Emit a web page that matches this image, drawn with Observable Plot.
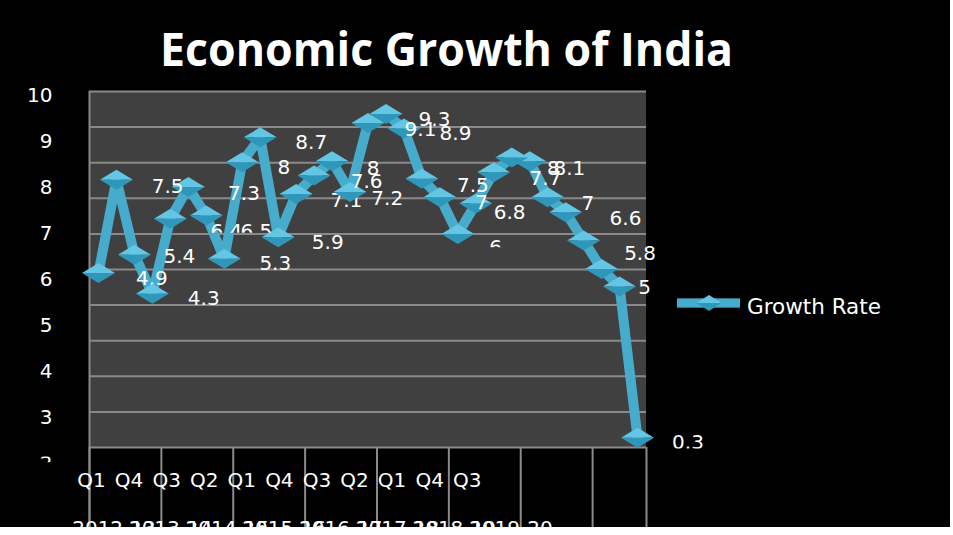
<!DOCTYPE html>
<html><head><meta charset="utf-8">
<script src="https://cdn.jsdelivr.net/npm/d3@7"></script>
<script src="https://cdn.jsdelivr.net/npm/@observablehq/plot@0.6"></script>
<style>
html,body{margin:0;padding:0;background:#fff;}
#chart{position:relative;width:950px;height:527px;background:#000;overflow:hidden;}
#title{position:absolute;left:0;top:25px;width:893px;text-align:center;font-family:"Open Sans";font-weight:700;font-size:47px;line-height:1;color:#fff;white-space:nowrap;}
#titleText{display:inline-block;transform-origin:center;}
#plot{position:absolute;left:0;top:80px;}
#legendSwatch{position:absolute;left:677px;top:292.7px;}
#legendText{position:absolute;left:747px;top:296px;font-family:"DejaVu Sans";font-size:21.5px;line-height:1;color:#fff;white-space:nowrap;}
</style></head><body>
<div id="chart">
  <div id="title"><span id="titleText">Economic Growth of India</span></div>
  <div id="plot"></div>
  <svg id="legendSwatch" width="64" height="20">
    <rect x="0" y="5.35" width="63" height="9.3" fill="#47abcb"></rect>
    <polygon points="19.5,10 32,2 44.5,10" fill="#63c6e4"></polygon>
    <polygon points="19.5,10 32,18 44.5,10" fill="#2f97ba"></polygon>
  </svg>
  <div id="legendText">Growth Rate</div>
</div>
<script>
// ---- data ----
const fiscalYears = ["2012-13","2013-14","2014-15","2015-16","2016-17","2017-18","2018-19","2019-20"];
const quarterNames = ["Q1","Q2","Q3","Q4"];
const seriesName = "Growth Rate";
const growthRate = [6.14, 8.17, 6.54, 5.69, 7.32, 8.01, 7.39, 6.45, 8.55, 9.09, 6.92, 7.86, 8.26, 8.57, 7.90, 9.40,
                    9.60, 9.28, 8.19, 7.79, 6.99, 7.65, 8.33, 8.65, 8.57, 7.79, 7.46, 6.85, 6.23, 5.85, 2.56];
const yTicks = [2, 3, 4, 5, 6, 7, 8, 9, 10];
// data labels as they appear (detached from the points in the original chart)
const labelText = ["4.9","7.5","5.4","4.3","7.3","5.3","8","5.9","8.7","7.1","7.6","8","7.2","9.1","9.3","8.9",
                   "7.5","7","6.8","7.7","8","8.1","7","6.6","5.8","5"];
const labelAtQuarter = [2.97,3.85,4.50,5.86,8.10,9.84,10.32,12.76,11.84,13.80,14.92,15.29,16.07,17.92,18.70,19.87,
                        20.84,21.32,22.88,24.88,25.32,26.21,27.24,29.33,30.14,30.39];
const labelAtValue = [6.02,8.02,6.49,5.58,7.86,6.34,8.43,6.80,8.97,7.72,8.12,8.41,7.75,9.26,9.48,9.17,
                      8.04,7.68,7.46,8.19,8.41,8.41,7.65,7.32,6.56,5.83];
const cutLabelText = ["6.4","6.5","6","0.3"];
const cutLabelAtQuarter = [7.12, 8.79, 22.10, 32.81];
const cutLabelAtValue = [7.04, 7.04, 6.70, 2.45];

// ---- derived tables ----
const quarters = [];
fiscalYears.forEach(fy => quarterNames.forEach(q => quarters.push(q + " " + fy)));
const points = growthRate.map((v, i) => ({i, quarter: quarters[i], v}));
const labels = labelText.map((t, k) => ({t, x: labelAtQuarter[k], y: labelAtValue[k]}));
const cutLabels = cutLabelText.map((t, k) => ({t, x: cutLabelAtQuarter[k], y: cutLabelAtValue[k], g: k < 2 ? "a" : k === 2 ? "b" : "c"}));
const underMarkers = new Set([0, 9]);
const axisQuarterLabels = quarters.map((q, i) => ({i, q: q.split(" ")[0]})).filter(d => d.i % 3 === 0);
const yearLabels = fiscalYears.map((fy, k) => ({k, fy}));

// ---- layout constants ----
const N = growthRate.length;
const Y_LO = 2.109, Y_HI = 10.087;            // y domain (plot area)
const FRAME_LO = 2.348, FRAME_HI = 10.087;    // 3D back wall
const BOTTOM = 0.609;                          // svg bottom in y units
const gridVals = d3.range(11).map(k => FRAME_LO + k * (FRAME_HI - FRAME_LO) / 10);
const yearTicks = d3.range(0, N + 1, 4).map(i => i - 0.5).concat([N - 0.5]);
const LINE = "#47abcb";

const HW = 16.5, HH = 10;
const diamondTop = {draw(ctx){ctx.moveTo(-HW,0);ctx.lineTo(0,-HH);ctx.lineTo(HW,0);ctx.closePath();}};
const diamondBot = {draw(ctx){ctx.moveTo(-HW,0);ctx.lineTo(0,HH);ctx.lineTo(HW,0);ctx.closePath();}};

const labelFont = {fill: "#fff", fontSize: 20, fontFamily: "DejaVu Sans"};

const svg = Plot.plot({
  width: 950, height: 447,
  marginLeft: 89, marginRight: 304, marginTop: 11, marginBottom: 69,
  style: {background: "transparent", color: "#fff", fontFamily: "DejaVu Sans", fontSize: "20px"},
  x: {type: "linear", domain: [-0.5, N - 0.5], axis: null},
  y: {type: "linear", domain: [Y_LO, Y_HI], axis: null},
  marks: [
    Plot.rect([0], {x1: () => -0.5, x2: () => N - 0.5, y1: () => FRAME_LO, y2: () => FRAME_HI, fill: "#404040"}),
    Plot.ruleY(gridVals, {x1: () => -0.5, x2: () => N - 0.5, stroke: "#8a8a8a", strokeWidth: 2}),
    Plot.ruleX([-0.5], {y1: () => FRAME_HI, y2: () => BOTTOM, stroke: "#8a8a8a", strokeWidth: 2}),
    Plot.ruleX(yearTicks, {y1: () => FRAME_LO, y2: () => BOTTOM, stroke: "#8a8a8a", strokeWidth: 2}),
    Plot.line(points, {x: "i", y: "v", stroke: LINE, strokeWidth: 10, strokeLinejoin: "round"}),
    Plot.text(labels.filter((d, k) => underMarkers.has(k)), {x: "x", y: "y", text: "t", ...labelFont}),
    Plot.dot(points, {x: "i", y: "v", symbol: diamondTop, r: 5, fill: "#63c6e4", stroke: "none"}),
    Plot.dot(points, {x: "i", y: "v", symbol: diamondBot, r: 5, fill: "#2f97ba", stroke: "none"}),
    Plot.text(labels.filter((d, k) => !underMarkers.has(k)), {x: "x", y: "y", text: "t", ...labelFont}),
    Plot.text(cutLabels.filter(d => d.g === "a"), {x: "x", y: "y", text: "t", ...labelFont, ariaDescription: "cut-a"}),
    Plot.text(cutLabels.filter(d => d.g === "b"), {x: "x", y: "y", text: "t", ...labelFont, ariaDescription: "cut-b"}),
    Plot.text(cutLabels.filter(d => d.g === "c"), {x: "x", y: "y", text: "t", ...labelFont, ariaDescription: "cut-c"}),
    Plot.text(axisQuarterLabels, {x: d => d.i * 0.697 - 0.388, text: "q", frameAnchor: "bottom", lineAnchor: "middle", dy: 22, ...labelFont}),
    Plot.text(yearLabels, {x: d => d.k * 3.156 - 1.463, text: "fy", frameAnchor: "bottom", lineAnchor: "middle", dy: 70, textAnchor: "start", ...labelFont}),
    Plot.axisY({ticks: yTicks, tickSize: 0, tickPadding: 37, label: null, tickFormat: d => String(d), fontSize: 20, fill: "#fff"})
  ]
});
svg.style.overflow = "hidden";
document.getElementById("plot").appendChild(svg);

// clipping like the original (labels cut by the 3D walls)
const s = d3.select(svg);
const defs = s.append("defs");
function clip(id, rects) {
  const cp = defs.append("clipPath").attr("id", id).attr("clipPathUnits", "userSpaceOnUse");
  rects.forEach(r => cp.append("rect").attr("x", r[0]).attr("y", r[1]).attr("width", r[2]).attr("height", r[3]));
}
clip("clipA", [[0, 0, 950, 152.3]]);
clip("clipB", [[0, 0, 950, 166.7]]);
clip("clipC", [[0, 0, 950, 368]]);
clip("clipY", [[0, 0, 120, 352], [0, 376, 120, 6]]);
s.selectAll('g[aria-description="cut-a"]').attr("clip-path", "url(#clipA)");
s.selectAll('g[aria-description="cut-b"]').attr("clip-path", "url(#clipB)");
s.selectAll('g[aria-description="cut-c"]').attr("clip-path", "url(#clipC)");
s.selectAll('g[aria-label="y-axis tick label"]').attr("clip-path", "url(#clipY)");

// fit title width
const tt = document.getElementById("titleText");
const w = tt.getBoundingClientRect().width;
tt.style.transform = "scaleX(" + (573 / w) + ")";
</script>
</body></html>
